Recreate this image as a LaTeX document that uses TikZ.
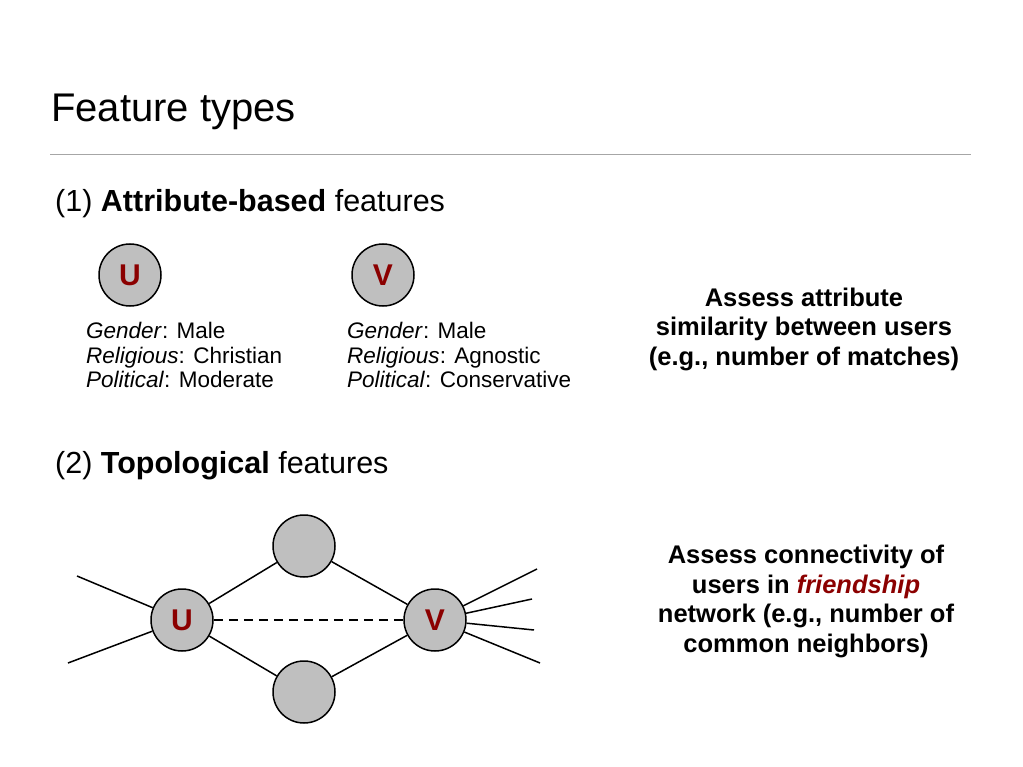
\documentclass[tikz,border=0pt]{standalone}
\usepackage{fontspec}
\setmainfont{Liberation Sans}
\usetikzlibrary{positioning}
\definecolor{darkred}{RGB}{139,0,0}

\begin{document}
\begin{tikzpicture}[x=1pt,y=-1pt, user/.style={circle,draw,line width=1.5pt,fill=gray!50,minimum size=62pt,inner sep=0pt,font=\fontsize{30}{32}\selectfont\bfseries,text=darkred},
    attr/.style={anchor=base west,align=left,inner sep=0pt,font=\fontsize{22.5}{24.5}\selectfont},
    note/.style={anchor=base,align=center,inner sep=0pt,font=\fontsize{25.5}{29.5}\selectfont\bfseries},
    head/.style={anchor=base west,inner sep=0pt,font=\fontsize{30.5}{36}\selectfont},
    link/.style={line width=1.5pt}]
      \useasboundingbox (0,0) rectangle (1023,767);
      \node[anchor=base west,inner sep=0pt,font=\fontsize{40}{48}\selectfont] (title) at (51,122) {Feature types};
      \draw[gray!70,line width=1pt] (50,155) -- (971,155);

      % attribute-based
      \node[head] (head1) at (55,212) {(1) \textbf{Attribute-based} features};
      \node[user] (u1) at (130,275) {U};
      \node[user] (v1) at (383,275) {V};
      \node[attr] (uattr) at (86,388) {\textit{Gender}: Male\\ \textit{Religious}: Christian\\ \textit{Political}: Moderate};
      \node[attr] (vattr) at (347,388) {\textit{Gender}: Male\\ \textit{Religious}: Agnostic\\ \textit{Political}: Conservative};
      \node[note] (note1) at (804,365.5) {Assess attribute\\ similarity between users\\ (e.g., number of matches)};

      % topological
      \node[head] (head2) at (55,473) {(2) \textbf{Topological} features};
      \node[user] (u2) at (182,620) {U};
      \node[user] (v2) at (435,620) {V};
      \node[user] (n1) at (304,546) {};
      \node[user] (n2) at (304,692) {};
      \coordinate (l1) at (77,576);
      \coordinate (l2) at (68,663);
      \coordinate (r1) at (537,569);
      \coordinate (r2) at (532,599);
      \coordinate (r3) at (534,630);
      \coordinate (r4) at (540,663);
      \draw[link] (u2) -- (n1) -- (v2);
      \draw[link] (u2) -- (n2) -- (v2);
      \draw[link,dash pattern=on 9pt off 6pt] (u2) -- (v2);
      \draw[link] (l1) -- (u2);
      \draw[link] (l2) -- (u2);
      \foreach \r in {r1,r2,r3,r4}
        \draw[link] (v2) -- (\r);
      \node[note] (note2) at (806,652) {Assess connectivity of\\ users in \textcolor{darkred}{\textit{friendship}}\\ network (e.g., number of\\ common neighbors)};
    \end{tikzpicture}
\end{document}
